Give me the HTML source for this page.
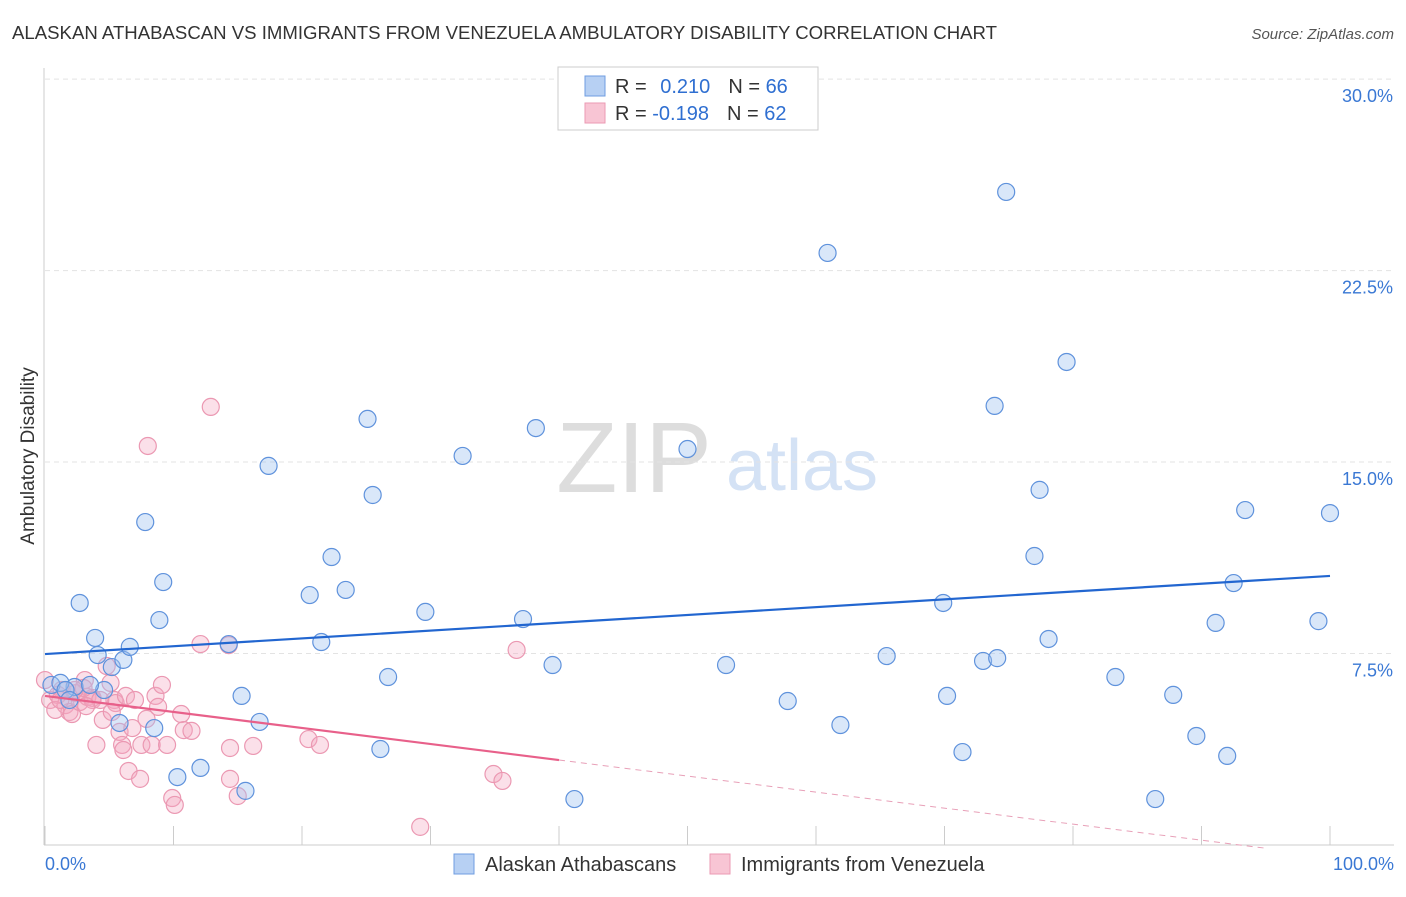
<!DOCTYPE html>
<html><head><meta charset="utf-8"><style>
body{margin:0;background:#fff;font-family:"Liberation Sans",sans-serif}
svg text{font-family:"Liberation Sans",sans-serif}
</style></head><body>
<svg id="c" width="1406" height="892">
<text x="12" y="39" font-size="18.6" fill="#333">ALASKAN ATHABASCAN VS IMMIGRANTS FROM VENEZUELA AMBULATORY DISABILITY CORRELATION CHART</text>
<text x="1394" y="39" font-size="15" fill="#555" text-anchor="end" font-style="italic">Source: ZipAtlas.com</text>
<text x="34" y="456" font-size="19" fill="#333" text-anchor="middle" transform="rotate(-90 34 456)">Ambulatory Disability</text>
<g>
<text x="634" y="492" font-size="100" fill="#ddd" text-anchor="middle" font-family="Liberation Serif,serif">ZIP</text>
<text x="802" y="490" font-size="72" fill="#d4e2f5" text-anchor="middle">atlas</text>
</g>
<g id="grid"></g><g id="pts"></g><g id="lines"></g>
<g>
<rect x="558" y="67" width="260" height="63" fill="#fff" stroke="#ccc"/>
<rect x="585" y="76" width="20" height="20" fill="#b7d0f3" stroke="#6f9de0"/>
<rect x="585" y="103" width="20" height="20" fill="#f8c5d4" stroke="#eb9ab3"/>
<text x="615" y="93" font-size="20" fill="#333">R = <tspan fill="#2f6fd1" dx="8">0.210</tspan><tspan fill="#333" dx="18">N = </tspan><tspan fill="#2f6fd1">66</tspan></text>
<text x="615" y="120" font-size="20" fill="#333">R = <tspan fill="#2f6fd1">-0.198</tspan><tspan fill="#333" dx="18">N = </tspan><tspan fill="#2f6fd1">62</tspan></text>
</g>
<g>
<rect x="454" y="854" width="20" height="20" fill="#b7d0f3" stroke="#6f9de0"/>
<text x="485" y="871" font-size="20" fill="#333">Alaskan Athabascans</text>
<rect x="710" y="854" width="20" height="20" fill="#f8c5d4" stroke="#eb9ab3"/>
<text x="741" y="871" font-size="20" fill="#333">Immigrants from Venezuela</text>
</g>
</svg>
<script>
const yTicks=[7.5,15,22.5,30];
const yTickLabels=["7.5%","15.0%","22.5%","30.0%"];
const xTickLabels=["0.0%","100.0%"];
const blueX=[2.7,3.9,4.1,5.2,6.1,6.6,5.8,4.6,2.3,0.5,1.2,7.8,9.2,8.9,8.5,10.3,12.1,15.6,15.3,16.7,17.4,14.3,20.6,21.5,22.3,23.4,25.1,25.5,26.1,26.7,29.6,32.5,37.2,38.2,39.5,41.2,50.0,53.0,57.8,60.9,61.9,65.5,69.9,70.2,71.4,73.0,73.9,74.1,74.8,77.0,77.4,78.1,79.5,83.3,86.4,87.8,89.6,91.1,92.0,92.5,93.4,99.1,100.0,1.6,3.5,1.9];
const blueY=[9.48,8.11,7.44,6.97,7.25,7.76,4.78,6.07,6.19,6.27,6.35,12.65,10.30,8.81,4.58,2.66,3.02,2.12,5.84,4.82,14.85,7.87,9.79,7.95,11.28,9.99,16.69,13.71,3.76,6.58,9.13,15.24,8.85,16.33,7.05,1.80,15.51,7.05,5.64,23.19,4.70,7.40,9.48,5.84,3.64,7.21,17.20,7.32,25.58,11.32,13.91,8.07,18.92,6.58,1.80,5.88,4.27,8.70,3.49,10.26,13.12,8.77,13.00,6.07,6.27,5.68];
const pinkX=[0.0,0.4,1.0,1.3,1.6,1.9,2.1,2.4,2.7,3.1,3.3,3.7,4.0,4.5,4.8,5.1,5.4,5.5,5.8,6.0,6.1,6.3,6.5,6.8,7.4,7.5,7.9,8.3,8.6,8.8,9.1,9.5,9.9,10.1,10.6,10.8,11.4,12.1,12.9,8.0,14.3,14.4,14.4,15.0,16.2,20.5,21.4,29.2,34.9,35.6,36.7,3.7,3.0,0.8,4.3,7.0,1.2,2.3,5.2,3.2];
const pinkY=[6.46,5.68,5.88,6.07,5.48,5.21,5.13,5.95,5.60,6.46,5.80,5.76,3.92,4.90,7.01,6.35,5.68,5.56,4.43,3.92,3.72,5.84,2.90,4.58,2.59,3.92,4.94,3.92,5.84,5.41,6.27,3.92,1.84,1.57,5.13,4.50,4.47,7.87,17.16,15.63,7.83,3.80,2.59,1.92,3.88,4.15,3.92,0.71,2.78,2.51,7.64,5.68,6.15,5.29,5.68,5.68,5.68,6.07,5.21,5.44];
const blueTrend=[7.48,10.54];
const pinkTrend=[5.84,-0.0628];
const NS="http://www.w3.org/2000/svg";
const X=v=>45+v*12.85, Y=v=>845-v*25.53;
function mk(p,t,a){const e=document.createElementNS(NS,t);for(const k in a)e.setAttribute(k,a[k]);p.appendChild(e);return e;}
const g=document.getElementById('grid');
yTicks.forEach((t,i)=>{
 const l=mk(g,'line',{x1:45,x2:1394,y1:Y(t),y2:Y(t),stroke:'#e3e3e3','stroke-dasharray':'5,4'});
 
 
 const tx=mk(g,'text',{x:1393,y:Y(t)+23,'font-size':18,fill:'#3a78d4','text-anchor':'end'});tx.textContent=yTickLabels[i];
 
 
});
mk(g,'line',{x1:44,x2:44,y1:68,y2:845,stroke:'#ccc'});
mk(g,'line',{x1:44,x2:1394,y1:845,y2:845,stroke:'#ccc'});
for(let i=0;i<=10;i++){const tk=mk(g,'line',{x1:X(i*10),x2:X(i*10),y1:826,y2:845,stroke:'#ccc'});
 
 }
[[0,'start',45],[100,'end',1394]].forEach((d,i)=>{const tx=mk(g,'text',{x:d[2],y:870,'font-size':18,fill:'#3a78d4','text-anchor':d[1]});tx.textContent=xTickLabels[i];
 
 });
const P=document.getElementById('pts');
pinkX.forEach((x,i)=>{const c=mk(P,'circle',{cx:X(x),cy:Y(pinkY[i]),r:8.5,fill:'rgba(244,165,192,0.35)',stroke:'#eb98b2','stroke-width':1.2});
 
 });
blueX.forEach((x,i)=>{const c=mk(P,'circle',{cx:X(x),cy:Y(blueY[i]),r:8.5,fill:'rgba(160,195,240,0.4)',stroke:'#5f92dc','stroke-width':1.2});
 
 });
const L=document.getElementById('lines');
const bl=mk(L,'line',{x1:X(0),y1:Y(blueTrend[0]),x2:X(100),y2:Y(blueTrend[1]),stroke:'#2266d0','stroke-width':2.2});


const pf=x=>pinkTrend[0]+pinkTrend[1]*x;
const pl=mk(L,'line',{x1:X(0),y1:Y(pf(0)),x2:X(40),y2:Y(pf(40)),stroke:'#e8608a','stroke-width':2.2});


const pd=mk(L,'line',{x1:X(40),y1:Y(pf(40)),x2:X(95),y2:Y(pf(95)),stroke:'#e8a0b8','stroke-width':1,'stroke-dasharray':'6,5'});


</script>
</body></html>
